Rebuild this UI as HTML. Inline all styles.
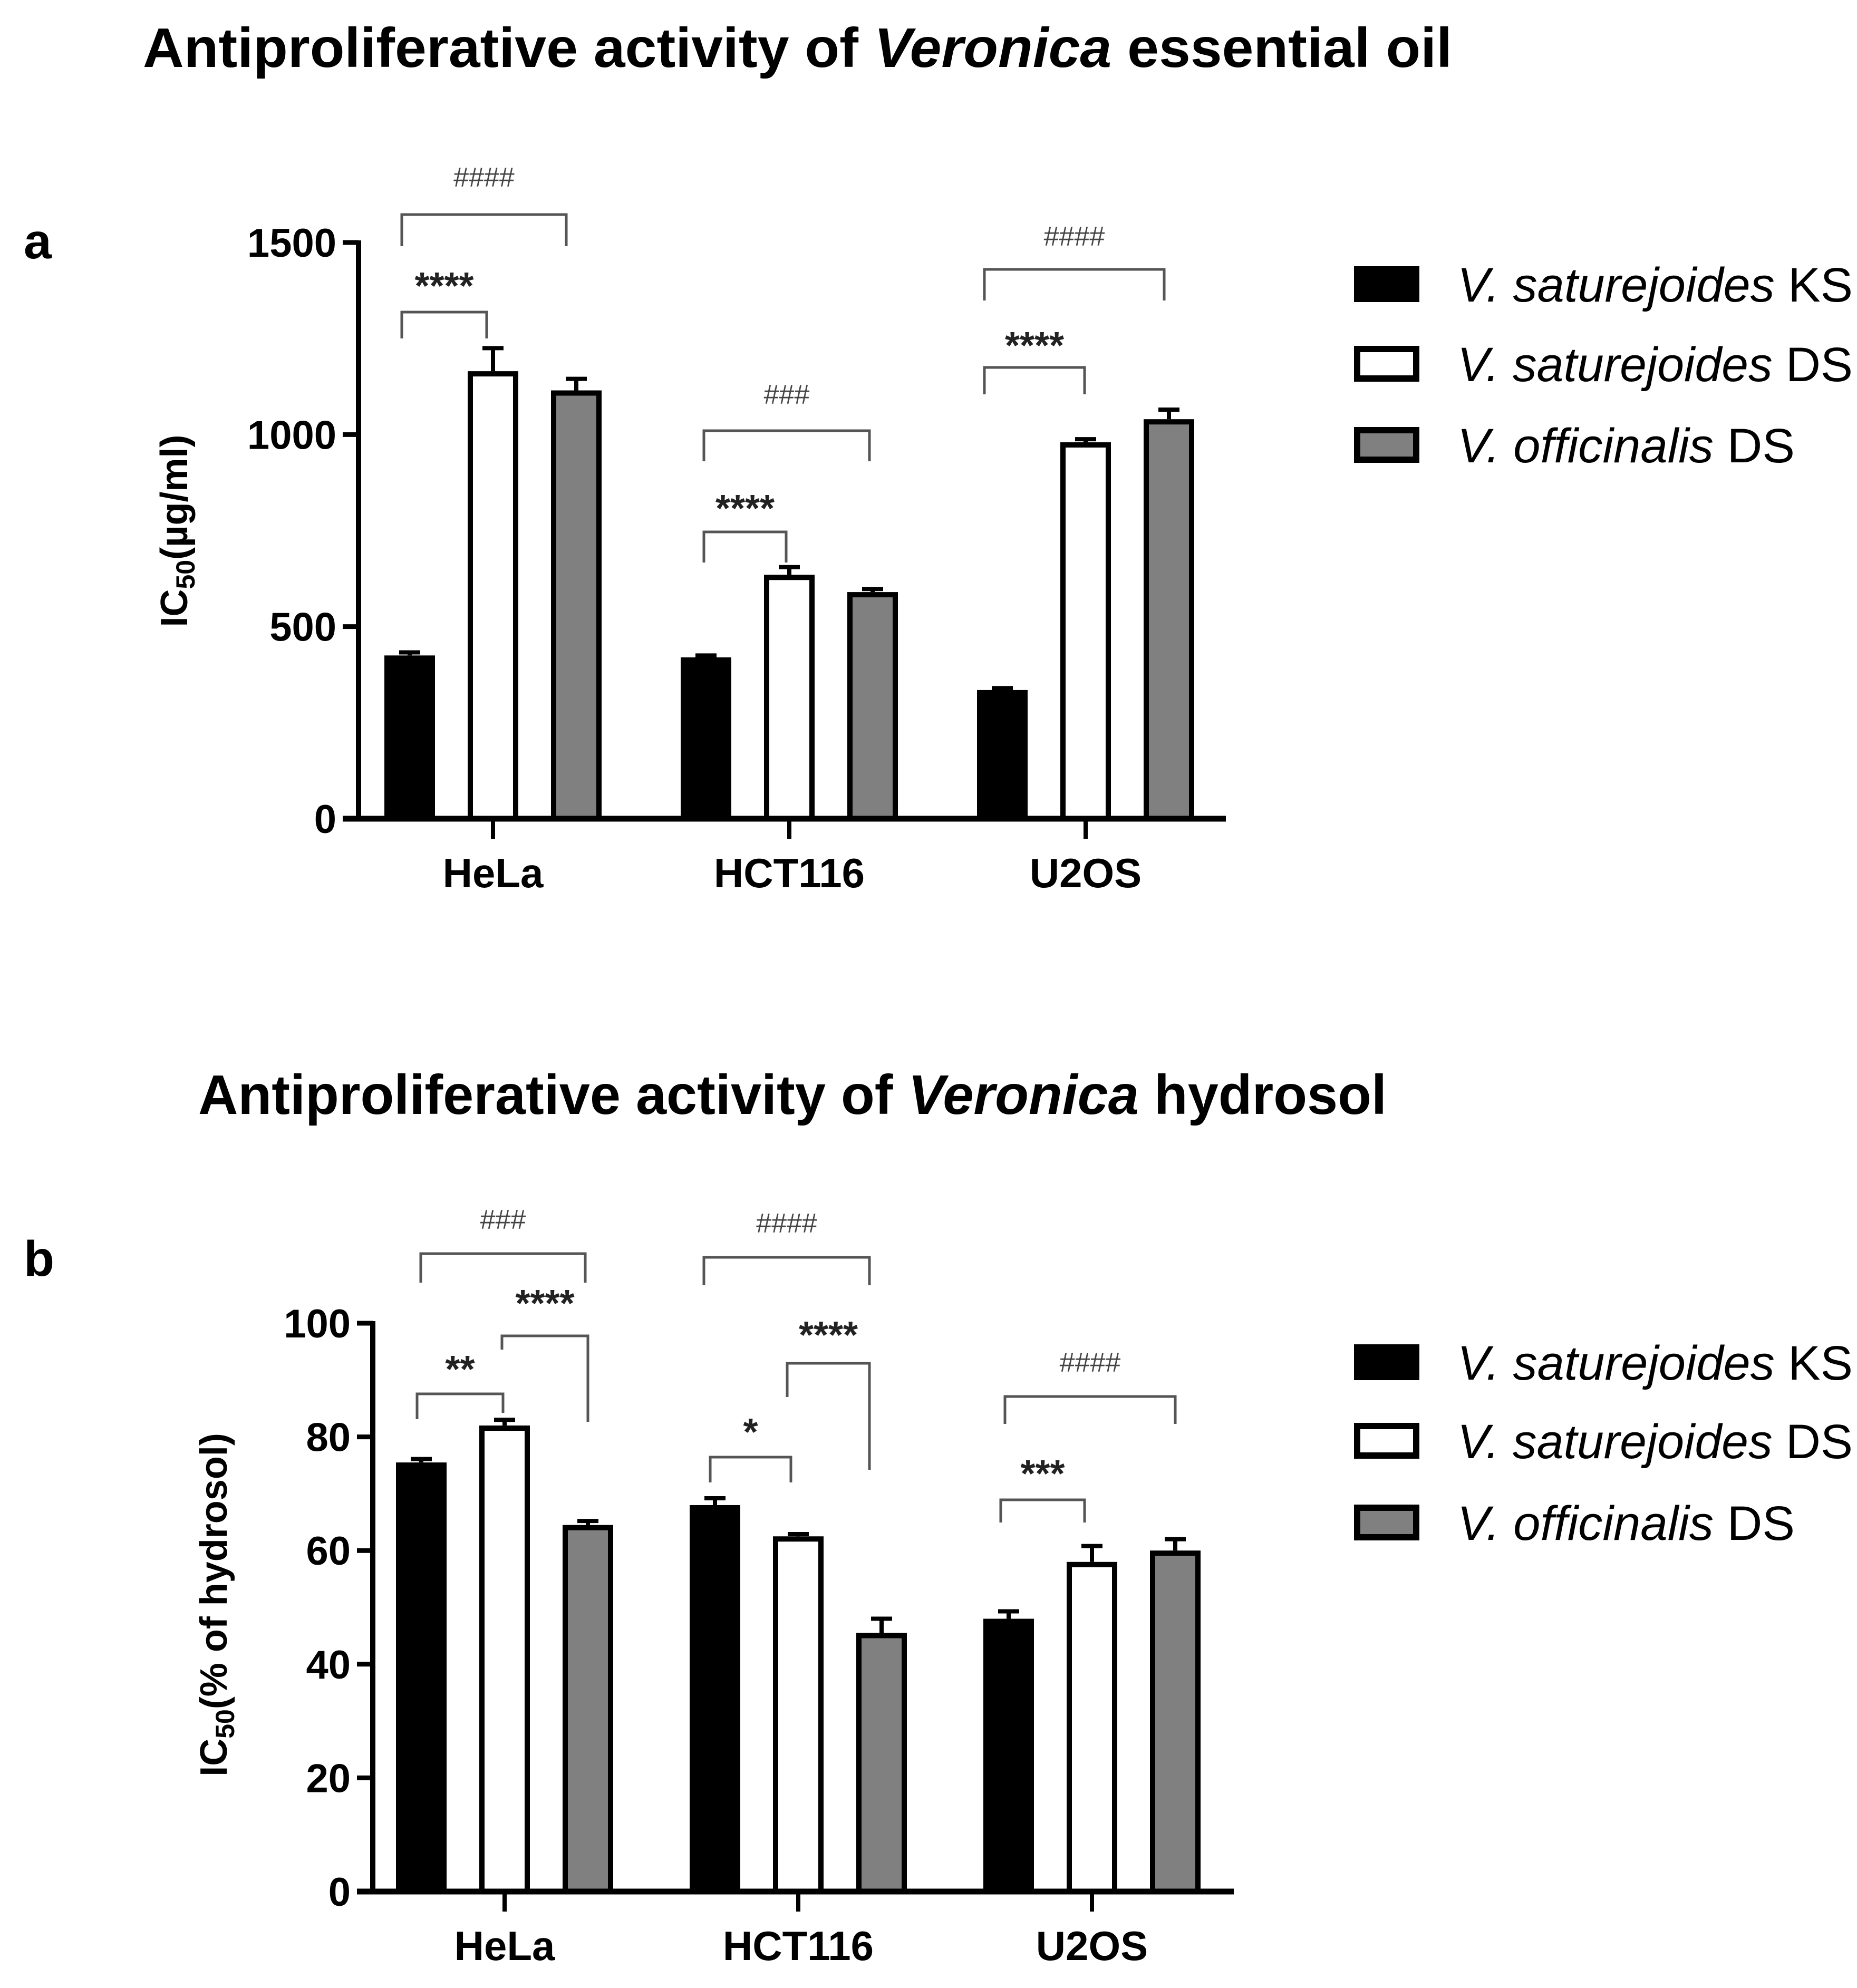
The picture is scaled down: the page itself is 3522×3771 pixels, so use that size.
<!DOCTYPE html>
<html><head><meta charset="utf-8"><style>
html,body{margin:0;padding:0;background:#fff;}
svg{display:block;font-family:"Liberation Sans",Arial,sans-serif;}
</style></head><body>
<svg id="fig" width="3522" height="3771" viewBox="0 0 3522 3771" xmlns="http://www.w3.org/2000/svg">
<text x="271" y="127" font-size="106" font-weight="bold" textLength="2483" lengthAdjust="spacingAndGlyphs">Antiproliferative activity of <tspan font-style="italic">Veronica</tspan> essential oil</text>
<text x="376" y="2113" font-size="106" font-weight="bold" textLength="2254" lengthAdjust="spacingAndGlyphs">Antiproliferative activity of <tspan font-style="italic">Veronica</tspan> hydrosol</text>
<text x="45" y="490" font-size="95" font-weight="bold">a</text>
<text x="45" y="2420" font-size="95" font-weight="bold">b</text>
<g id="chartA"></g>
<g id="chartB"></g>
</svg>
<script>
// Chart A data
const catsA = ["HeLa","HCT116","U2OS"];
const ksA = [425, 420, 335];
const dsA = [1165, 635, 980];
const ofA = [1115, 590, 1040];
const ksErrA = [8, 5, 5];
const dsErrA = [60, 20, 8];
const ofErrA = [30, 8, 25];
const ticksA = [0, 500, 1000, 1500];
// Chart B data
const catsB = ["HeLa","HCT116","U2OS"];
const ksB = [75.5, 68, 48];
const dsB = [82, 62.5, 58];
const ofB = [64.5, 45.5, 60];
const ksErrB = [0.6, 1.2, 1.3];
const dsErrB = [1.0, 0.4, 2.8];
const ofErrB = [0.7, 2.5, 2.0];
const ticksB = [0, 20, 40, 60, 80, 100];
const seriesNames = ["V. saturejoides KS","V. saturejoides DS","V. officinalis DS"];
const fills = ["#000","#fff","#808080"];
const NS = "http://www.w3.org/2000/svg";
function mk(parent, tag, attrs){const e=document.createElementNS(NS,tag);for(const k in attrs)e.setAttribute(k,attrs[k]);parent.appendChild(e);return e;}

function drawChart(g, cfg){
  const y = v => cfg.y0 - (v - 0) / cfg.max * (cfg.y0 - cfg.yTop);
  const xc = i => cfg.c0 + i * cfg.step;
  const series = [cfg.ks, cfg.ds, cfg.of];
  const errs = [cfg.ksE, cfg.dsE, cfg.ofE];
  const offs = [-cfg.off, 0, cfg.off];
  for (let s=0;s<3;s++){
    for (let i=0;i<cfg.cats.length;i++){
      const v = series[s][i], e = errs[s][i];
      const cx = xc(i)+offs[s];
      const ln = mk(g,'line',{x1:cx,x2:cx,y1:y(v),y2:y(v+e),stroke:'#000','stroke-width':8});
      
      
      const cap = mk(g,'line',{x1:cx-20,x2:cx+20,y1:y(v+e),y2:y(v+e),stroke:'#000','stroke-width':8});
      
      
      const r = mk(g,'rect',{x:cx-cfg.bw/2+5,y:y(v)+5,width:cfg.bw-10,height:cfg.y0-y(v)-5,fill:fills[s],stroke:'#000','stroke-width':10});
      
      
    }
  }
  const ya = mk(g,'line',{x1:cfg.x0,x2:cfg.x0,y1:cfg.yTop-4,y2:cfg.y0+5,stroke:'#000','stroke-width':10});
  
  
  const xa = mk(g,'line',{x1:cfg.x0-30,x2:cfg.xEnd,y1:cfg.y0,y2:cfg.y0,stroke:'#000','stroke-width':11});
  
  
  cfg.ticks.forEach(t=>{
    const tk = mk(g,'line',{x1:cfg.x0-30,x2:cfg.x0,y1:y(t),y2:y(t),stroke:'#000','stroke-width':9});
    
    
    const tl = mk(g,'text',{x:cfg.x0-42,y:y(t)+27,'font-size':76,'font-weight':'bold','text-anchor':'end'});
    tl.textContent = t;
    
    
  });
  cfg.cats.forEach((c,i)=>{
    const tk = mk(g,'line',{x1:xc(i),x2:xc(i),y1:cfg.y0,y2:cfg.y0+38,stroke:'#000','stroke-width':8});
    
    
    const tl = mk(g,'text',{x:xc(i),y:cfg.y0+130,'font-size':78,'font-weight':'bold','text-anchor':'middle'});
    tl.textContent = c;
    
    
  });
  const yt = mk(g,'text',{x:0,y:0,'font-size':72,'font-weight':'bold','text-anchor':'middle',transform:`translate(${cfg.ytx},${cfg.yty}) rotate(-90)`});
  yt.innerHTML = 'IC<tspan font-size="50" dy="14">50</tspan><tspan dy="-14">'+cfg.ytitle+'</tspan>';
  
  
  seriesNames.forEach((n,s)=>{
    const ly = cfg.legY[s];
    const lr = mk(g,'rect',{x:2574,y:ly-28,width:112,height:56,fill:fills[s],stroke:'#000','stroke-width':12});
    
    
    const parts = n.split(' ');
    const lt = mk(g,'text',{x:2764,y:ly+33,'font-size':92,textLength:s==2?640:750,lengthAdjust:'spacingAndGlyphs'});
    lt.innerHTML = '<tspan font-style="italic">'+parts[0]+' '+parts[1]+'</tspan> '+parts[2];
    
    
  });
  cfg.ann.forEach(a=>{
    const [x1,x2,top,l1,l2,txt,ty] = a;
    const p = mk(g,'path',{d:`M${x1},${l1} V${top} H${x2} V${l2}`,fill:'none',stroke:'#555','stroke-width':5});
    
    
    const star = txt.indexOf('*')>=0;
    const t = mk(g,'text',{x:(x1+x2)/2,y:ty+(star?40:18),'font-size':star?72:52,'font-weight':star?'bold':'normal','text-anchor':'middle',fill:star?'#222':'#444'});
    t.textContent = txt;
    
    
  });
}
drawChart(document.getElementById('chartA'),{
  cats:catsA, ks:ksA, ds:dsA, of:ofA, ksE:ksErrA, dsE:dsErrA, ofE:ofErrA, ticks:ticksA,
  max:1500, y0:1553, yTop:460, x0:680, xEnd:2325, c0:935, step:562, off:158, bw:96,
  ytx:355, yty:1007, ytitle:'(µg/ml)', legY:[539,690,844],
  ann:[[762,1074,407,467,467,'####',336],[762,923,592,642,642,'****',527],
       [1335,1649,817,875,875,'###',748],[1335,1491,1009,1067,1067,'****',949],
       [1867,2208,511,570,570,'####',448],[1867,2057,697,748,748,'****',640]]
});
drawChart(document.getElementById('chartB'),{
  cats:catsB, ks:ksB, ds:dsB, of:ofB, ksE:ksErrB, dsE:dsErrB, ofE:ofErrB, ticks:ticksB,
  max:100, y0:3588, yTop:2510, x0:707, xEnd:2340, c0:957, step:557, off:158, bw:96,
  ytx:430, yty:3044, ytitle:'(% of hydrosol)', legY:[2584,2733,2888],
  ann:[[798,1110,2378,2433,2433,'###',2313],[952,1115,2534,2560,2697,'****',2457],
       [791,954,2644,2692,2680,'**',2582],[1335,1649,2385,2438,2438,'####',2320],
       [1493,1649,2586,2650,2788,'****',2517],[1347,1500,2764,2812,2812,'*',2701],
       [1906,2229,2649,2701,2701,'####',2584],[1898,2057,2845,2888,2888,'***',2780]]
});
</script>
</body></html>
